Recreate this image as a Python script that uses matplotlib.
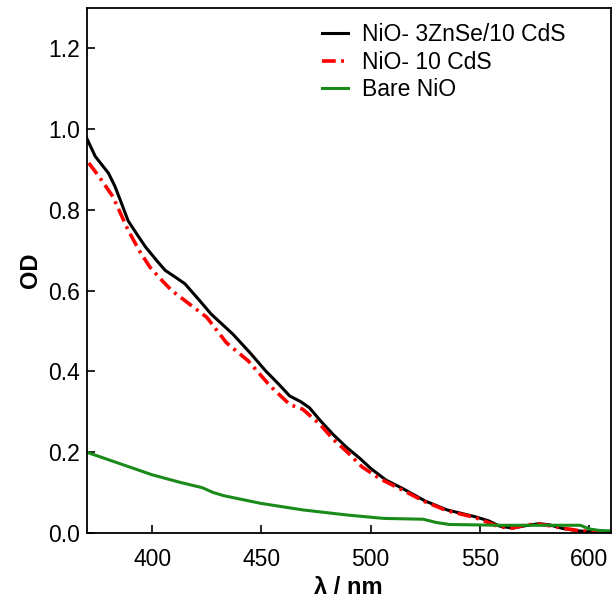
import matplotlib
matplotlib.use("Agg")
import matplotlib.pyplot as plt

# Absorption spectra
wl_znse_cds = [370, 374, 380, 383, 386, 389, 393, 397, 402, 406, 411, 415, 421, 427,
               437, 445, 452, 458, 463, 468, 472, 477, 483, 489, 495, 500, 507, 515,
               525, 535, 548, 554, 559, 565, 571, 577, 582, 588, 594, 599, 605, 610]
od_znse_cds = [0.978, 0.932, 0.891, 0.858, 0.816, 0.773, 0.740, 0.708, 0.675, 0.650,
               0.632, 0.617, 0.580, 0.542, 0.492, 0.445, 0.401, 0.368, 0.339, 0.325,
               0.310, 0.278, 0.243, 0.212, 0.185, 0.160, 0.131, 0.109, 0.079, 0.057,
               0.040, 0.030, 0.017, 0.012, 0.018, 0.023, 0.020, 0.011, 0.006, 0.003,
               0.003, 0.003]

wl_cds = [371, 376, 382, 389, 394, 399, 404, 409, 417, 425, 434, 444, 454, 463, 469,
          477, 483, 489, 496, 504, 515, 525, 535, 548, 559, 565, 571, 577, 583, 589,
          595, 600, 605, 610]
od_cds = [0.916, 0.880, 0.833, 0.750, 0.700, 0.658, 0.628, 0.600, 0.567, 0.534, 0.471,
          0.426, 0.364, 0.318, 0.306, 0.268, 0.231, 0.202, 0.164, 0.135, 0.105, 0.077,
          0.055, 0.038, 0.015, 0.012, 0.020, 0.022, 0.017, 0.011, 0.006, 0.004, 0.002,
          0.002]

wl_bare = [370, 385, 400, 413, 423, 428, 433, 450, 469, 490, 506, 524, 530, 536, 559,
           580, 596, 600, 605, 610]
od_bare = [0.200, 0.172, 0.144, 0.125, 0.112, 0.100, 0.092, 0.073, 0.057, 0.044, 0.036,
           0.034, 0.026, 0.021, 0.019, 0.019, 0.019, 0.010, 0.006, 0.005]

labels = ["NiO- 3ZnSe/10 CdS", "NiO- 10 CdS", "Bare NiO"]

plt.rcParams["font.family"] = ["Liberation Sans", "DejaVu Sans"]

fig = plt.figure(figsize=(6.14, 6.07), dpi=100)
ax = fig.add_axes([0.141, 0.122, 0.854, 0.865])

ax.plot(wl_znse_cds, od_znse_cds, color="black", lw=2.2, label=labels[0])
ax.plot(wl_cds, od_cds, color="red", lw=2.6, dashes=(3.8, 1.5, 0.8, 1.5), label=labels[1])
ax.plot(wl_bare, od_bare, color="#1a8a1a", lw=2.2, label=labels[2])

ax.set_xlim(370, 610)
ax.set_ylim(0, 1.3)
ax.set_xticks([400, 450, 500, 550, 600])
ax.set_yticks([0.0, 0.2, 0.4, 0.6, 0.8, 1.0, 1.2])
ax.yaxis.set_major_formatter(matplotlib.ticker.FormatStrFormatter("%.1f"))
ax.tick_params(direction="in", length=6, width=1.2, labelsize=16.5)
ax.tick_params(axis="x", pad=11)
ax.tick_params(axis="y", pad=5)
for s in ax.spines.values():
    s.set_linewidth(1.3)

ax.set_xlabel("λ / nm", fontsize=17, fontweight="bold", labelpad=3.5)
ax.set_ylabel("OD", fontsize=17, fontweight="bold", labelpad=4)

ax.legend(loc="upper left", frameon=False, fontsize=16.5, handlelength=1.15,
          handletextpad=0.6, labelspacing=0.2, borderpad=0, borderaxespad=0,
          bbox_to_anchor=(322 / 614, 1 - 23 / 607), bbox_transform=fig.transFigure)

fig.savefig("out.png", dpi=100)
